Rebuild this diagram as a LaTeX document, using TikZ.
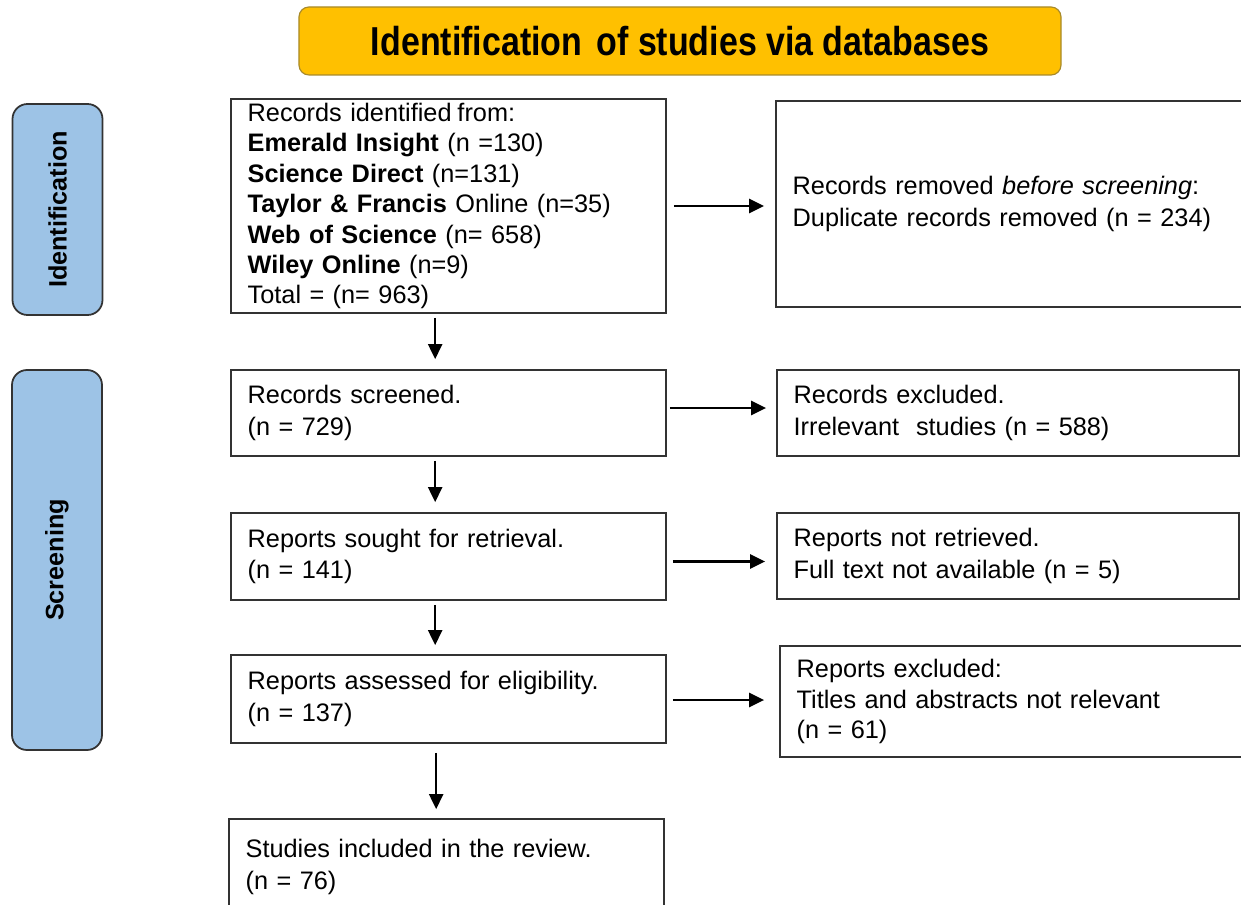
\documentclass[tikz,border=0pt]{standalone}
\usepackage{fontspec}
\setmainfont{Liberation Sans}
\newfontfamily\titlefont[FakeStretch=0.84]{Liberation Sans}
\usepackage{tikz}
\usetikzlibrary{arrows.meta, calc}
\definecolor{titlegold}{HTML}{FFC000}
\definecolor{titleedge}{HTML}{A88A2A}
\definecolor{phaseblue}{HTML}{9DC3E6}
\definecolor{boxedge}{HTML}{333333}
\tikzstyle{banner} = [rectangle, rounded corners=0.3cm, draw=titleedge, line width=1pt, fill=titlegold, minimum width=22.86cm, minimum height=2.04cm, font=\titlefont\bfseries\fontsize{34.5}{40}\selectfont]
\tikzstyle{phase} = [rectangle, rounded corners=0.45cm, draw=boxedge, line width=1.5pt, fill=phaseblue, minimum width=2.7cm, font=\bfseries\fontsize{21.5}{25}\selectfont]
\tikzstyle{record} = [rectangle, draw=boxedge, line width=1.5pt, align=left, inner xsep=0.5cm, text width=12.05cm, font=\fontsize{21.6}{27}\selectfont]
\tikzstyle{arrow} = [line width=2pt, draw=black, -{Triangle[length=0.45cm, width=0.42cm]}]

\begin{document}
\begin{tikzpicture}[x=0.03cm, y=-0.03cm]
\useasboundingbox (0,0) rectangle (1241,905);
% title and phase labels
\node (title) [banner] at (680,41) {Identification\hspace{0.12em} of studies via databases};
\node (ident) [phase, minimum height=6.33cm] at (57.5,209.5) {\rotatebox{90}{Identification}};
\node (screen) [phase, minimum height=11.4cm] at (57,560) {\rotatebox{90}{Screening}};
% main column
\node (found) [record, minimum height=6.36cm, font=\fontsize{21.6}{26}\selectfont] at (448.5,206) {Records identified\hspace{-0.1em} from:\\
\textbf{Emerald Insight} (n =130)\\
\textbf{Science Direct} (n=131)\\
\textbf{Taylor \& Francis} Online (n=35)\\
\textbf{Web of Science} (n= 658)\\
\textbf{Wiley Online} (n=9)\\
Total = (n= 963)};
\node (screened) [record, minimum height=2.58cm] at (448.5,413) {Records screened.\\(n = 729)};
\node (sought) [record, minimum height=2.61cm] at (448.5,556.5) {Reports sought for retrieval.\\(n = 141)};
\node (assessed) [record, minimum height=2.64cm] at (448.5,699) {Reports assessed for eligibility.\\(n = 137)};
\node (included) [record, minimum height=2.88cm] at (446.5,867) {Studies included in the review.\\(n = 76)};
% side column
\node (removed) [record, text width=13.28cm, minimum height=6.18cm] at (1014,204) {Records removed \textit{before screening}:\\Duplicate records removed (n = 234)};
\node (excluded) [record, text width=12.86cm, minimum height=2.58cm] at (1008,413) {Records excluded.\\Irrelevant\ \ studies (n = 588)};
\node (notfound) [record, text width=12.86cm, minimum height=2.58cm] at (1008,556) {Reports not retrieved.\\Full text\ not available (n = 5)};
\node (dropped) [record, text width=13.16cm, minimum height=3.33cm, font=\fontsize{21.6}{25.8}\selectfont] at (1016,701.5) {Reports excluded:\\Titles and abstracts not relevant\\(n = 61)\\[0.5cm]};
% arrows
\draw [arrow, shorten <=0.21cm, shorten >=0.33cm] (found.east) -- (found.east -| removed.west);
\draw [arrow, shorten <=0.09cm, shorten >=0.3cm] ([yshift=0.15cm]screened.east) -- ([yshift=0.15cm]screened.east -| excluded.west);
\draw [arrow, shorten <=0.18cm, shorten >=0.33cm] ([yshift=-0.15cm]sought.east) -- ([yshift=-0.15cm]sought.east -| notfound.west);
\draw [arrow, shorten <=0.18cm, shorten >=0.45cm] ([yshift=-0.03cm]assessed.east) -- ([yshift=-0.03cm]assessed.east -| dropped.west);
\draw [arrow, shorten <=0.12cm, shorten >=0.3cm] ([xshift=-0.4cm]found.south) -- ([xshift=-0.4cm]screened.north);
\draw [arrow, shorten <=0.12cm, shorten >=0.3cm] ([xshift=-0.4cm]screened.south) -- ([xshift=-0.4cm]sought.north);
\draw [arrow, shorten <=0.12cm, shorten >=0.27cm] ([xshift=-0.4cm]sought.south) -- ([xshift=-0.4cm]assessed.north);
\draw [arrow, shorten <=0.27cm, shorten >=0.27cm] ([xshift=-0.37cm]assessed.south) -- ([xshift=-0.37cm]assessed.south |- included.north);
\end{tikzpicture}
\end{document}
